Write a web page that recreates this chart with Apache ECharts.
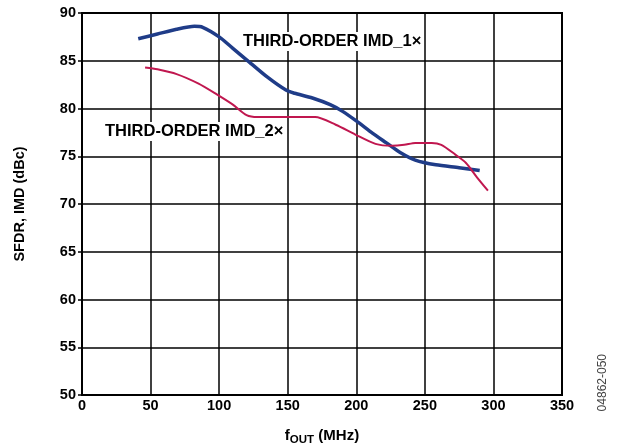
<!DOCTYPE html>
<html>
<head>
<meta charset="utf-8">
<script src="https://cdn.jsdelivr.net/npm/echarts@6/dist/echarts.min.js"></script>
<style>
  html, body { margin: 0; padding: 0; background: #fff; }
  #main { width: 618px; height: 448px; }
</style>
</head>
<body>
<div id="main"></div>
<script>
// fOUT (MHz) and level (dBc)
const imd1Freq = [41, 55, 69, 82, 88, 100, 110, 120, 135, 149, 155, 168, 181, 190, 200, 212, 222, 232, 243, 258, 275, 290];
const imd1Level = [87.3, 87.8, 88.3, 88.6, 88.5, 87.5, 86.3, 85.1, 83.3, 81.9, 81.6, 81.1, 80.4, 79.7, 78.7, 77.4, 76.4, 75.4, 74.6, 74.1, 73.8, 73.5];

const imd2Freq = [46, 55, 69, 85, 98, 110, 120, 128, 170, 185, 199, 214, 226, 235, 243, 255, 262, 272, 280, 288, 296];
const imd2Level = [84.3, 84.1, 83.6, 82.6, 81.5, 80.4, 79.3, 79.1, 79.1, 78.3, 77.3, 76.3, 76.1, 76.2, 76.4, 76.4, 76.2, 75.2, 74.3, 72.8, 71.4];

const xTicks = [0, 50, 100, 150, 200, 250, 300, 350];
const yTicks = [50, 55, 60, 65, 70, 75, 80, 85, 90];

const seriesNames = ['THIRD-ORDER IMD_1×', 'THIRD-ORDER IMD_2×'];

const pairs = (xs, ys) => xs.map((x, i) => [x, ys[i]]);

const font = '"Liberation Sans", Arial, Helvetica, sans-serif';

const chart = echarts.init(document.getElementById('main'));

const labelStyle = (text) => ({
  text,
  fontFamily: font,
  fontWeight: 'bold',
  fontSize: 16.5,
  fill: '#000',
  backgroundColor: '#fff',
  padding: [1, 2],
});

const option = {
  animation: false,
  backgroundColor: '#fff',
  grid: {
    left: 82,
    right: 56,
    top: 13,
    bottom: 53,
    outerBoundsMode: 'none',
    containLabel: false,
    show: true,
    borderColor: '#000',
    borderWidth: 2,
  },
  xAxis: {
    type: 'value',
    min: xTicks[0],
    max: xTicks[xTicks.length - 1],
    interval: 50,
    axisLine: { show: true, lineStyle: { color: '#000', width: 2 } },
    axisTick: { show: false },
    axisLabel: {
      color: '#000',
      fontFamily: font,
      fontWeight: 'bold',
      fontSize: 14.5,
      margin: 3,
    },
    splitLine: { show: true, lineStyle: { color: '#000', width: 1.5 } },
    name: '{f|f}{sub|OUT}{f| (MHz)}',
    nameLocation: 'middle',
    nameGap: 30,
    nameTextStyle: {
      rich: {
        f: { fontFamily: font, fontWeight: 'bold', fontSize: 15, color: '#000' },
        sub: { fontFamily: font, fontWeight: 'bold', fontSize: 11.5, color: '#000', verticalAlign: 'bottom', padding: [9, 0, 0, 0] },
      },
    },
  },
  yAxis: {
    type: 'value',
    min: yTicks[0],
    max: yTicks[yTicks.length - 1],
    interval: 5,
    axisLine: { show: true, lineStyle: { color: '#000', width: 2 } },
    axisTick: { show: true, length: 4, inside: false, lineStyle: { color: '#000', width: 1.5 } },
    axisLabel: {
      color: '#000',
      fontFamily: font,
      fontWeight: 'bold',
      fontSize: 14.5,
      margin: 6,
    },
    splitLine: { show: true, lineStyle: { color: '#000', width: 1.5 } },
    name: 'SFDR, IMD (dBc)',
    nameLocation: 'middle',
    nameGap: 55,
    nameTextStyle: { fontFamily: font, fontWeight: 'bold', fontSize: 14.5, color: '#000' },
  },
  series: [
    {
      name: seriesNames[0],
      type: 'line',
      data: pairs(imd1Freq, imd1Level),
      smooth: 0.25,
      symbol: 'none',
      lineStyle: { color: '#1f3c88', width: 3.5 },
      z: 3,
    },
    {
      name: seriesNames[1],
      type: 'line',
      data: pairs(imd2Freq, imd2Level),
      smooth: 0.25,
      symbol: 'none',
      lineStyle: { color: '#c0174f', width: 2 },
      z: 4,
    },
  ],
  graphic: [
    { type: 'text', left: 241, top: 32, z: 10, style: labelStyle(seriesNames[0]) },
    { type: 'text', left: 103, top: 122, z: 10, style: labelStyle(seriesNames[1]) },
    {
      type: 'text',
      left: 597,
      top: 354,
      rotation: Math.PI / 2,
      style: {
        text: '04862-050',
        fontFamily: '"Liberation Sans Narrow", "Liberation Sans", Arial, sans-serif',
        fontSize: 12,
        fill: '#444',
      },
    },
  ],
};

chart.setOption(option);
</script>
</body>
</html>
